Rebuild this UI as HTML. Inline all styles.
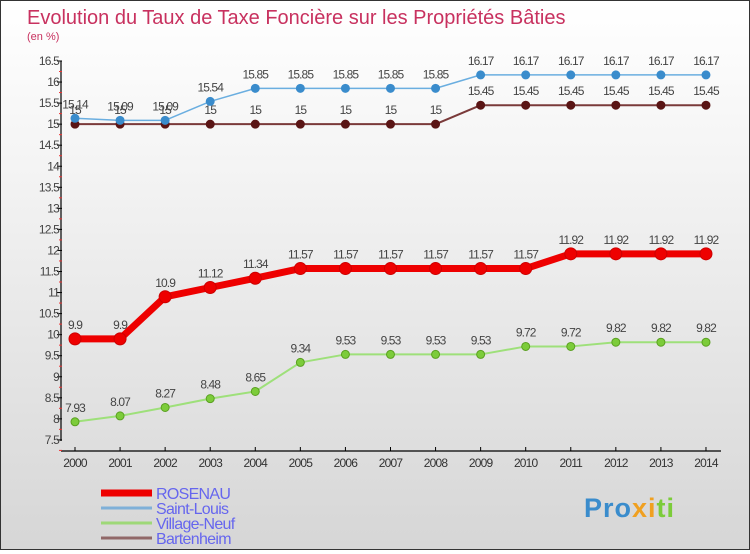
<!DOCTYPE html>
<html><head><meta charset="utf-8"><style>
html,body{margin:0;padding:0}
body{width:750px;height:550px;overflow:hidden;font-family:"Liberation Sans",sans-serif}
#wrap{position:relative;width:748px;height:548px;border:1px solid #333;background:linear-gradient(#ffffff 0%,#f4f4f4 30%,#d6d6d6 100%)}
</style></head><body>
<div id="wrap">
<svg id="chart" width="748" height="548" xmlns="http://www.w3.org/2000/svg"></svg>
</div>
<script>
const years=[2000,2001,2002,2003,2004,2005,2006,2007,2008,2009,2010,2011,2012,2013,2014];
const rosenau=[9.9,9.9,10.9,11.12,11.34,11.57,11.57,11.57,11.57,11.57,11.57,11.92,11.92,11.92,11.92];
const saintLouis=[15.14,15.09,15.09,15.54,15.85,15.85,15.85,15.85,15.85,16.17,16.17,16.17,16.17,16.17,16.17];
const villageNeuf=[7.93,8.07,8.27,8.48,8.65,9.34,9.53,9.53,9.53,9.53,9.72,9.72,9.82,9.82,9.82];
const bartenheim=[15,15,15,15,15,15,15,15,15,15.45,15.45,15.45,15.45,15.45,15.45];
const yTicks=[7.5,8,8.5,9,9.5,10,10.5,11,11.5,12,12.5,13,13.5,14,14.5,15,15.5,16,16.5];
const NS="http://www.w3.org/2000/svg";
const svg=document.getElementById('chart');
const xS=i=>74+i*45.07;
const yS=v=>60+(16.5-v)*42.1;
function el(t,a,txt){const e=document.createElementNS(NS,t);for(const k in a)e.setAttribute(k,a[k]);if(txt!==undefined)e.textContent=txt;svg.appendChild(e);return e;}
let e;
e=el('text',{x:26,y:23,fill:'#c8315f','font-size':20},'Evolution du Taux de Taxe Foncière sur les Propriétés Bâties');


e=el('text',{x:26,y:39,fill:'#c8315f','font-size':11},'(en %)');


e=el('line',{x1:60,y1:60,x2:60,y2:440,stroke:'#000','stroke-width':1.2});


e=el('line',{x1:60,y1:450,x2:720,y2:450,stroke:'#000','stroke-width':1.2});


yTicks.forEach(v=>{
 const y=yS(v);
 e=el('line',{x1:56,y1:y,x2:61,y2:y,stroke:'#000'});
 
 
 e=el('line',{x1:58,y1:y+10.5,x2:61,y2:y+10.5,stroke:'#e33'});
 
 
 e=el('text',{x:58,y:y+4,'text-anchor':'end','font-size':12,fill:'#444','letter-spacing':'-0.8'},String(v));
 
 
});
years.forEach((yr,i)=>{
 const x=xS(i);
 e=el('line',{x1:x,y1:446,x2:x,y2:450,stroke:'#000'});
 
 
 e=el('text',{x:x,y:466,'text-anchor':'middle','font-size':12,fill:'#333','letter-spacing':'-0.8'},String(yr));
 
 
});
function series(vals,name,color,dot,lw,r,dotStroke){
 const pts=vals.map((v,i)=>xS(i)+','+yS(v)).join(' ');
 e=el('polyline',{points:pts,fill:'none',stroke:color,'stroke-width':lw,'stroke-linejoin':'round'});
 
 
 vals.forEach((v,i)=>{
  e=el('circle',{cx:xS(i),cy:yS(v),r:r,fill:dot,stroke:dotStroke,'stroke-width':1});
  
  
  e=el('text',{x:xS(i),y:yS(v)-10,'text-anchor':'middle','font-size':12,fill:'#444','letter-spacing':'-0.9'},String(v));
  
  
 });
}
series(bartenheim,'bartenheim','#7a3a3a','#5a1515',2,4,'#5a1515');
series(saintLouis,'saint-louis','#6aaee0','#3a8ccc',1.5,4,'#3a8ccc');
series(villageNeuf,'village-neuf','#9ee07a','#7ccc3a',2,4,'#5aa020');
series(rosenau,'rosenau','#ee0000','#ee0000',7,6,'#cc0000');
const leg=[['ROSENAU','#ee0000',7],['Saint-Louis','#7fb0d8',3],['Village-Neuf','#9ed878',3],['Bartenheim','#906868',3]];
leg.forEach((l,i)=>{
 const y=492+i*15;
 e=el('line',{x1:100,y1:y,x2:151,y2:y,stroke:l[1],'stroke-width':l[2]});
 
 
 e=el('text',{x:155,y:y+6,'font-size':16,fill:'#6666ee','letter-spacing':'-0.7'},l[0]);
 
 
});
e=el('text',{x:583,y:516,'font-size':27,'font-weight':'bold','letter-spacing':'1'});


e.innerHTML='<tspan fill="#3a8ccc">Pro</tspan><tspan fill="#f0a020">xi</tspan><tspan fill="#7ccc3a">ti</tspan>';
</script>
</body></html>
